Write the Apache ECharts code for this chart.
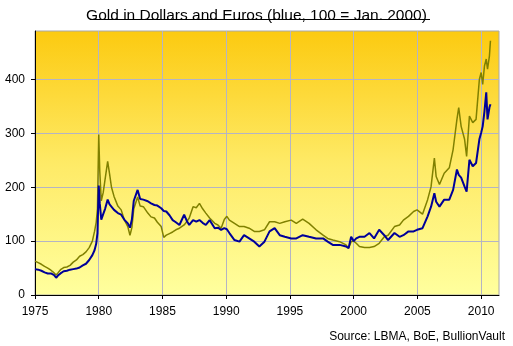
<!DOCTYPE html>
<html>
<head>
<meta charset="utf-8">
<script src="https://cdn.jsdelivr.net/npm/echarts@6/dist/echarts.min.js"></script>
<style>
html,body{margin:0;padding:0;background:#fff;}
#chart{width:513px;height:346px;}
</style>
</head>
<body>
<div id="chart"></div>
<script>
// Decimal years of sample points
var years = [
 1975.0,1975.25,1975.5,1975.75,1976.0,1976.25,1976.5,1976.66,1976.8,1977.0,
 1977.25,1977.5,1977.75,1978.0,1978.25,1978.5,1978.75,1979.0,1979.25,1979.5,
 1979.67,1979.8,1979.9,1980.0,1980.08,1980.2,1980.35,1980.5,1980.7,1980.85,
 1981.0,1981.2,1981.5,1981.76,1982.0,1982.28,1982.45,1982.6,1982.75,1983.05,
 1983.25,1983.5,1983.85,1984.1,1984.37,1984.6,1984.9,1985.1,1985.3,1985.55,
 1985.8,1986.05,1986.33,1986.7,1986.9,1987.1,1987.4,1987.65,1987.9,1988.15,
 1988.4,1988.7,1989.1,1989.35,1989.6,1989.85,1990.05,1990.25,1990.65,1991.04,
 1991.4,1991.8,1992.2,1992.6,1993.0,1993.4,1993.8,1994.2,1994.6,1995.1,
 1995.5,1996.0,1996.5,1997.05,1997.6,1997.96,1998.36,1998.9,1999.4,1999.6,
 1999.8,2000.0,2000.2,2000.45,2000.85,2001.24,2001.6,2002.0,2002.4,2002.7,
 2003.2,2003.6,2003.9,2004.3,2004.7,2004.97,2005.4,2005.8,2006.07,2006.33,
 2006.47,2006.73,2007.1,2007.5,2007.8,2008.1,2008.24,2008.43,2008.7,2008.86,
 2009.08,2009.34,2009.6,2009.86,2010.0,2010.12,2010.26,2010.4,2010.5,2010.65,
 2010.73
];
// Gold in US Dollars (olive), 100 = Jan. 2000
var dollarIndex = [
 63,60,57,53,50,46,41,37,41,47,
 51,52,55,61,65,72,75,80,88,100,
 118,135,160,298,230,175,190,215,248,225,
 200,183,165,158,140,127,111,125,160,182,
 165,164,152,145,143,135,127,107,111,114,
 117,121,124,130,136,143,164,162,170,160,
 152,143,133,130,124,140,146,139,133,127,
 127,124,118,118,121,136,136,133,136,139,
 133,141,133,121,111,105,102,99,93,87,
 99,100,96,90,88,88,90,96,108,111,
 127,130,139,146,155,158,150,177,201,254,
 220,205,226,236,270,326,348,313,289,257,
 332,320,326,400,413,391,425,438,419,444,
 472
];
// Gold in Euros (blue), 100 = Jan. 2000
var euroIndex = [
 48,47,45,42,40,40,37,32,36,40,
 44,45,47,48,49,51,55,58,65,74,
 83,95,115,203,170,140,150,160,177,168,
 165,158,152,149,140,133,125,140,175,195,
 178,177,174,170,167,166,161,156,155,148,
 139,135,130,149,138,130,139,136,139,134,
 130,139,124,125,121,124,122,115,102,99,
 111,105,99,90,99,118,124,111,108,105,
 105,111,108,105,105,99,93,93,90,87,
 108,100,105,108,108,115,105,121,111,102,
 115,108,111,118,118,121,124,146,164,189,
 173,164,177,177,195,233,223,218,201,192,
 251,239,245,289,301,313,341,376,326,348,
 354
];
var xTicks = [1975,1980,1985,1990,1995,2000,2005,2010];
var yTicks = [0,100,200,300,400];
var titleText = 'Gold in Dollars and Euros (blue, 100 = Jan. 2000)';
var sourceText = 'Source: LBMA, BoE, BullionVault';

var usdData = years.map(function(y,i){return [y, dollarIndex[i]];});
var eurData = years.map(function(y,i){return [y, euroIndex[i]];});

var FONT = "'Liberation Sans', Arial, sans-serif";
var chart = echarts.init(document.getElementById('chart'), null, {renderer:'canvas'});
chart.setOption({
  animation: false,
  title: [
    {text: titleText, left: 'center', top: 3,
     textStyle: {fontFamily: FONT, fontSize: 15.5, fontWeight: 'normal', color: '#000'}},
    {text: sourceText, right: 3, top: 326,
     textStyle: {fontFamily: FONT, fontSize: 12, fontWeight: 'normal', color: '#000'}}
  ],
  graphic: [
    {type: 'line', shape: {x1: 90, y1: 19.5, x2: 430, y2: 19.5}, style: {stroke: '#000', lineWidth: 1}}
  ],
  grid: {
    left: 35, top: 31, width: 464, height: 264,
    show: true,
    borderColor: '#a8a8a8', borderWidth: 1,
    backgroundColor: {type: 'linear', x: 0, y: 0, x2: 0, y2: 1,
      colorStops: [{offset: 0, color: '#fcca10'}, {offset: 0.5, color: '#feea66'}, {offset: 1, color: '#ffff9e'}]}
  },
  xAxis: {
    type: 'value', min: 1975, max: 2011.4, interval: 5,
    axisLine: {show: true, lineStyle: {color: '#000', width: 1}},
    axisTick: {show: true, length: 4, lineStyle: {color: '#000'}, customValues: xTicks},
    axisLabel: {customValues: xTicks, margin: 11, fontFamily: FONT, fontSize: 12, color: '#000',
      formatter: function(v){return String(v);}},
    splitLine: {show: true, lineStyle: {color: '#b4b4c4', width: 1}}
  },
  yAxis: {
    type: 'value', min: 0, max: 490, interval: 100,
    axisLine: {show: true, lineStyle: {color: '#000', width: 1}},
    axisTick: {show: true, length: 4, lineStyle: {color: '#000'}, customValues: yTicks},
    axisLabel: {customValues: yTicks, margin: 10, fontFamily: FONT, fontSize: 12, color: '#000'},
    splitLine: {show: true, lineStyle: {color: '#b4b4c4', width: 1}}
  },
  series: [
    {name: 'USD', type: 'line', data: usdData, showSymbol: false, symbol: 'none',
     lineStyle: {color: '#808000', width: 1.5}, z: 2},
    {name: 'EUR', type: 'line', data: eurData, showSymbol: false, symbol: 'none',
     lineStyle: {color: '#000099', width: 2}, z: 3}
  ]
});
</script>
</body>
</html>
